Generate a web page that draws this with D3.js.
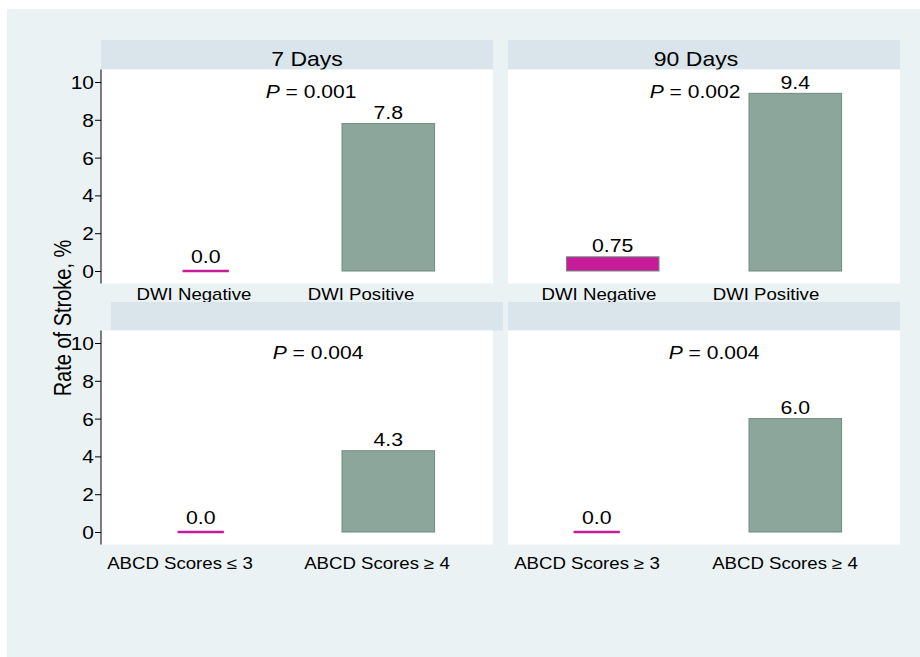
<!DOCTYPE html>
<html>
<head>
<meta charset="utf-8">
<script src="https://cdn.jsdelivr.net/npm/d3@7"></script>
<style>
  body { margin: 0; background: #fff; }
  text { font-family: "Liberation Sans", Arial, sans-serif; fill: #000; }
</style>
</head>
<body>
<div id="chart"></div>
<script>
// values, panels in order: top-left, top-right, bottom-left, bottom-right
var panelTitles = ["7 Days", "90 Days", "", ""];
var catTL = ["DWI Negative", "DWI Positive"];
var catTR = ["DWI Negative", "DWI Positive"];
var catBL = ["ABCD Scores \u2264 3", "ABCD Scores \u2265 4"];
var catBR = ["ABCD Scores \u2265 3", "ABCD Scores \u2265 4"];
var valTL = [0, 7.8];
var valTR = [0.75, 9.4];
var valBL = [0, 4.3];
var valBR = [0, 6.0];
var pValues = ["0.001", "0.002", "0.004", "0.004"];
var yTicks = [0, 2, 4, 6, 8, 10];
var yTitle = "Rate of Stroke, %";

var cats = [catTL, catTR, catBL, catBR];
var vals = [valTL, valTR, valBL, valBR];

var W = 920, H = 657;
var SX = 1.15;            // text in the figure is drawn a bit wide
var pw = 392, ph = 214;
var colors = ["#c71b97", "#8ca69b"];

// panel placement
var layout = [
  {x: 101, y: 69.5,  stripY: 40,  stripDx: 0,  titleDx: 10, zeroDx: 0,   pDx: 210, labelRange: [93, 260], labelY: 230.5, axis: true},
  {x: 508, y: 69.5,  stripY: 40,  stripDx: 0,  titleDx: -8, zeroDx: 0,   pDx: 187, labelRange: [91, 258], labelY: 230.5, axis: false},
  {x: 101, y: 330.5, stripY: 302, stripDx: 10, titleDx: 0,  zeroDx: -5,  pDx: 217, labelRange: [79, 276], labelY: 238.5, axis: true},
  {x: 508, y: 330.5, stripY: 302, stripDx: 0,  titleDx: 0,  zeroDx: -16, pDx: 206, labelRange: [79, 277], labelY: 238.5, axis: false}
];

var svg = d3.select("#chart").append("svg")
    .attr("width", W)
    .attr("height", H);

svg.append("rect")
    .attr("x", 7).attr("y", 9)
    .attr("width", W - 7).attr("height", H - 9)
    .attr("fill", "#eaf2f3");

var y = d3.scaleLinear().domain([0, 10]).range([201.5, 12.5]);

function fmt(v) {
    var f = Math.abs(v * 10 - Math.round(v * 10)) > 1e-6 ? ".2f" : ".1f";
    return d3.format(f)(v);
}

function stretch(x, yy) {
    return "translate(" + x + "," + yy + ") scale(" + SX + ",1)";
}

layout.forEach(function(L, i) {
    // strip header
    svg.append("rect")
        .attr("x", L.x + L.stripDx).attr("y", L.stripY)
        .attr("width", pw).attr("height", L.y - L.stripY)
        .attr("fill", "#d9e5ea");
    if (panelTitles[i]) {
        svg.append("text")
            .attr("transform", stretch(L.x + L.stripDx + pw / 2 + L.titleDx, L.stripY + 26))
            .attr("text-anchor", "middle")
            .attr("font-size", 20)
            .text(panelTitles[i]);
    }

    var g = svg.append("g")
        .attr("transform", "translate(" + L.x + "," + L.y + ")");

    g.append("rect")
        .attr("width", pw).attr("height", ph)
        .attr("fill", "#fff");

    var x = d3.scaleBand()
        .domain(cats[i])
        .range([0, pw])
        .paddingInner(0.493)
        .paddingOuter(0.32);

    var data = cats[i].map(function(c, j) { return {c: c, v: vals[i][j], j: j}; });

    // bars (zero values show as a short line)
    g.selectAll(".bar")
        .data(data.filter(function(d) { return d.v > 0; }))
      .enter().append("rect")
        .attr("class", "bar")
        .attr("x", function(d) { return x(d.c); })
        .attr("y", function(d) { return y(d.v); })
        .attr("width", x.bandwidth())
        .attr("height", function(d) { return y(0) - y(d.v); })
        .attr("fill", function(d) { return colors[d.j]; })
        .attr("stroke", "#6f8c82")
        .attr("stroke-width", 1);

    g.selectAll(".zero")
        .data(data.filter(function(d) { return d.v === 0; }))
      .enter().append("line")
        .attr("class", "zero")
        .attr("x1", function(d) { return x(d.c) + x.bandwidth() / 4 + L.zeroDx; })
        .attr("x2", function(d) { return x(d.c) + x.bandwidth() * 3 / 4 + L.zeroDx; })
        .attr("y1", y(0)).attr("y2", y(0))
        .attr("stroke", function(d) { return colors[d.j]; })
        .attr("stroke-width", 2.5);

    // value labels
    g.selectAll(".val")
        .data(data)
      .enter().append("text")
        .attr("class", "val")
        .attr("transform", function(d) {
            var cx = x(d.c) + x.bandwidth() / 2 + (d.v === 0 ? L.zeroDx : 0);
            return stretch(cx, y(d.v) - (d.v === 0 ? 8 : 4.5));
        })
        .attr("text-anchor", "middle")
        .attr("font-size", 18.5)
        .text(function(d) { return fmt(d.v); });

    // category labels
    var xl = d3.scalePoint().domain(cats[i]).range(L.labelRange);
    g.selectAll(".cat")
        .data(cats[i])
      .enter().append("text")
        .attr("class", "cat")
        .attr("transform", function(d) { return stretch(xl(d), L.labelY); })
        .attr("text-anchor", "middle")
        .attr("font-size", 16.2)
        .text(function(d) { return d; });

    // p value
    var pt = g.append("text")
        .attr("transform", stretch(L.pDx, 28))
        .attr("text-anchor", "middle")
        .attr("font-size", 18.3);
    pt.append("tspan").attr("font-style", "italic").text("P");
    pt.append("tspan").text(" = " + pValues[i]);

    // y axis on the left column
    if (L.axis) {
        var ax = g.append("g")
            .call(d3.axisLeft(y).tickValues(yTicks).tickSize(6).tickSizeOuter(0)
                  .tickFormat(d3.format("d")));
        ax.select(".domain").remove();
        ax.selectAll(".tick line").attr("stroke", "#000");
        ax.selectAll(".tick text")
            .attr("x", 0).attr("dy", null)
            .attr("transform", "translate(-7,6.5) scale(" + SX + ",1)")
            .attr("font-size", 18.2)
            .attr("font-family", null)
            .attr("fill", "#000");
        g.append("line")
            .attr("x1", 0).attr("x2", 0)
            .attr("y1", 0).attr("y2", ph)
            .attr("stroke", "#000");
    }
});

svg.append("text")
    .attr("transform", "translate(71,318) scale(" + SX + ",1) rotate(-90)")
    .attr("text-anchor", "middle")
    .attr("font-size", 20)
    .text(yTitle);
</script>
</body>
</html>
